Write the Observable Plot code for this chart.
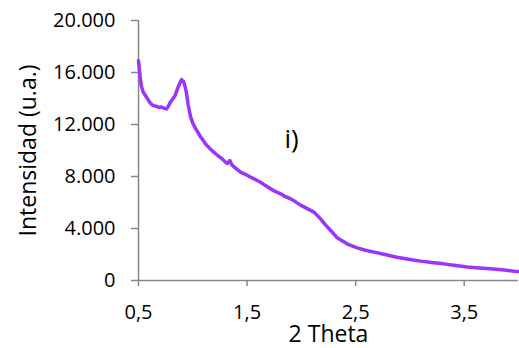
<!DOCTYPE html>
<html>
<head>
<meta charset="utf-8">
<script src="https://cdn.jsdelivr.net/npm/d3@7"></script>
<script src="https://cdn.jsdelivr.net/npm/@observablehq/plot@0.6"></script>
<style>
  html, body { margin: 0; padding: 0; background: #fff; }
  #chart { width: 519px; height: 348px; }
</style>
</head>
<body>
<div id="chart"></div>
<script>
const twoTheta = [0.50, 0.512, 0.525, 0.543, 0.574, 0.604, 0.635, 0.666, 0.69, 0.712, 0.735, 0.758, 0.775, 0.789, 0.81, 0.835, 0.866, 0.896, 0.915, 0.927, 0.942, 0.958, 0.979, 1.00, 1.025, 1.05, 1.071, 1.095, 1.118, 1.14, 1.164, 1.19, 1.21, 1.24, 1.271, 1.295, 1.317, 1.341, 1.364, 1.40, 1.44, 1.49, 1.532, 1.58, 1.624, 1.67, 1.717, 1.76, 1.809, 1.85, 1.90, 1.95, 1.993, 2.05, 2.116, 2.177, 2.22, 2.27, 2.33, 2.42, 2.515, 2.59, 2.67, 2.78, 2.88, 3.0, 3.10, 3.2, 3.31, 3.42, 3.53, 3.64, 3.74, 3.85, 3.96, 4.0];
const intensity = [16900, 15900, 15000, 14500, 14100, 13700, 13450, 13400, 13300, 13350, 13250, 13200, 13400, 13650, 13900, 14200, 14900, 15450, 15300, 15000, 14400, 13500, 12600, 12100, 11700, 11350, 11050, 10800, 10500, 10300, 10100, 9900, 9750, 9550, 9350, 9150, 9000, 9230, 8850, 8600, 8330, 8150, 7950, 7750, 7560, 7300, 7050, 6850, 6670, 6470, 6280, 6030, 5800, 5550, 5260, 4740, 4300, 3850, 3280, 2820, 2510, 2330, 2180, 1980, 1790, 1620, 1490, 1380, 1280, 1150, 1030, 960, 900, 820, 720, 700];
const xTicks = [0.5, 1.5, 2.5, 3.5];
const yTicks = [0, 4000, 8000, 12000, 16000, 20000];
const xTitle = "2 Theta";
const yTitle = "Intensidad (u.a.)";
const annotations = [{label: "i)", x: 1.91, y: 10800}];

const data = twoTheta.map((t, i) => ({t, v: intensity[i]}));
const fmtX = d => String(d).replace(".", ",");
const fmtY = d => d3.format(",")(d).replace(/,/g, ".");
const axisColor = "#868686";

const chart = Plot.plot({
  width: 519,
  height: 348,
  marginLeft: 138,
  marginRight: 1,
  marginTop: 20,
  marginBottom: 68,
  style: {fontFamily: "'Open Sans', sans-serif", fontSize: "20px", color: "#000", background: "#fff", overflow: "visible"},
  x: {domain: [0.5, 4.0]},
  y: {domain: [0, 20000]},
  marks: [
    Plot.axisY({ticks: yTicks, tickFormat: fmtY, tickSize: 7, tickPadding: 16, stroke: axisColor, strokeWidth: 1.5, label: null, fontSize: 20, fill: "#000"}),
    Plot.axisX({ticks: xTicks, tickFormat: fmtX, tickSize: 6, tickPadding: 18, stroke: axisColor, strokeWidth: 1.5, label: null, fontSize: 20, fill: "#000"}),
    Plot.ruleX([0.5], {stroke: axisColor, strokeWidth: 1.5}),
    Plot.ruleY([0], {stroke: axisColor, strokeWidth: 1.5}),
    Plot.line(data, {x: "t", y: "v", stroke: "#9a34ff", strokeWidth: 3.5, strokeLinejoin: "round", strokeLinecap: "round"}),
    Plot.text(annotations, {x: "x", y: "y", text: "label", fontSize: 26, fill: "#000"}),
    Plot.text([yTitle], {frameAnchor: "left", textAnchor: "middle", lineAnchor: "middle", rotate: -90, dx: -110, fontSize: 23, fill: "#000"}),
    Plot.text([xTitle], {frameAnchor: "bottom", textAnchor: "middle", lineAnchor: "middle", dy: 54, fontSize: 23, fill: "#000"})
  ]
});
document.getElementById("chart").append(chart);
</script>
</body>
</html>
